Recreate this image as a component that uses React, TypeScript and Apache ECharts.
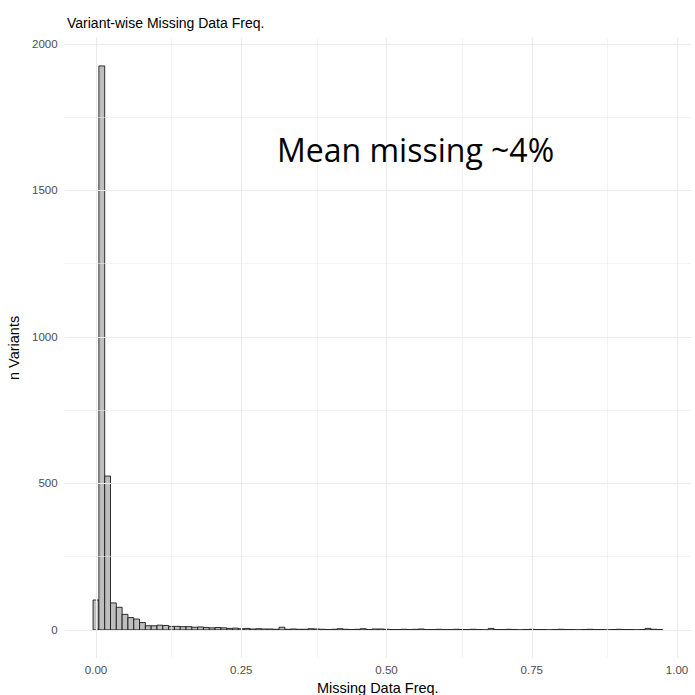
import React, { useEffect, useRef } from "react";
import * as echarts from "echarts";

const binWidth = 0.01;
const counts = [
  102, 1925, 525, 92, 77, 53, 42, 37, 25, 14,
  14, 16, 15, 12, 12, 11, 11, 9, 10, 8,
  7, 8, 7, 5, 6, 4, 5, 3, 4, 3,
  3, 2, 9, 2, 3, 2, 2, 4, 3, 2,
  1, 2, 4, 2, 1, 2, 4, 1, 3, 3,
  2, 1, 1, 2, 1, 2, 3, 1, 1, 2,
  1, 1, 2, 1, 1, 2, 1, 0, 5, 1,
  1, 2, 1, 0, 1, 2, 1, 1, 0, 1,
  2, 1, 1, 0, 1, 2, 1, 1, 0, 1,
  2, 1, 1, 0, 1, 5, 2, 1,
];
const xTicks = [0, 0.25, 0.5, 0.75, 1];
const xMinor = [0.125, 0.375, 0.625, 0.875];
const yTicks = [0, 500, 1000, 1500, 2000];
const yMinor = [250, 750, 1250, 1750];
const titleText = "Variant-wise Missing Data Freq.";
const xTitle = "Missing Data Freq.";
const yTitle = "n Variants";
const noteText = "Mean missing ~4%";

const FONT = "'Liberation Sans', Arial, Helvetica, sans-serif";

export default function App() {
  const ref = useRef<HTMLDivElement>(null);
  useEffect(() => {
    if (!ref.current) return;
    const chart = echarts.init(ref.current, undefined, { renderer: "svg" });
    const data = counts.map((c, i) => [i * binWidth, c]);
    const gridLine = (vals: number[], axis: "xAxis" | "yAxis", width: number) =>
      vals.map((v) => ({ [axis]: v, lineStyle: { color: "#ebebeb", width, type: "solid" } }));
    chart.setOption({
      animation: false,
      backgroundColor: "#ffffff",
      title: [
        {
          text: titleText,
          left: 62,
          top: 11,
          textStyle: { fontFamily: FONT, fontSize: 14, fontWeight: "normal", color: "#000" },
        },
        {
          text: noteText,
          left: 272,
          top: 128,
          textStyle: { fontFamily: "'Open Sans', 'Noto Sans', sans-serif", fontSize: 32, fontWeight: "normal", color: "#000" },
        },
      ],
      grid: { left: 64.6, right: 4, top: 37.8, bottom: 37, outerBoundsMode: "none", containLabel: false },
      xAxis: {
        type: "value",
        min: -0.054,
        max: 1.024,
        name: xTitle,
        nameLocation: "middle",
        nameGap: 21,
        nameTextStyle: { fontFamily: FONT, fontSize: 14.5, color: "#000" },
        axisLine: { show: false },
        axisTick: { show: false },
        splitLine: { show: false },
        axisLabel: {
          customValues: xTicks,
          formatter: (v: number) => v.toFixed(2),
          color: "#4d4d4d",
          fontFamily: FONT,
          fontSize: 11.5,
          margin: 6,
        },
      },
      yAxis: {
        type: "value",
        min: -96,
        max: 2021,
        name: yTitle,
        nameLocation: "middle",
        nameGap: 39,
        nameTextStyle: { fontFamily: FONT, fontSize: 14.5, color: "#000" },
        axisLine: { show: false },
        axisTick: { show: false },
        splitLine: { show: false },
        axisLabel: {
          customValues: yTicks,
          formatter: (v: number) => String(v),
          color: "#4d4d4d",
          fontFamily: FONT,
          fontSize: 11.5,
          margin: 7,
        },
      },
      series: [
        {
          type: "line",
          data: [],
          z: 1,
          silent: true,
          markLine: {
            silent: true,
            symbol: "none",
            label: { show: false },
            animation: false,
            data: [
              ...gridLine(xMinor, "xAxis", 0.6),
              ...gridLine(yMinor, "yAxis", 0.6),
              ...gridLine(xTicks, "xAxis", 1.1),
              ...gridLine(yTicks, "yAxis", 1.1),
            ],
          },
        },
        {
          type: "custom",
          z: 2,
          data,
          encode: { x: 0, y: 1 },
          renderItem: (params: any, api: any) => {
            const x = api.value(0);
            const c = api.value(1);
            const p0 = api.coord([x - binWidth / 2, c]);
            const p1 = api.coord([x + binWidth / 2, 0]);
            return {
              type: "rect",
              shape: { x: p0[0], y: p0[1], width: p1[0] - p0[0], height: p1[1] - p0[1] },
              style: { fill: "#bebebe", stroke: "#1a1a1a", lineWidth: 0.9 },
            };
          },
        },
      ],
    });
    return () => chart.dispose();
  }, []);
  return (
    <div
      ref={ref}
      style={{ position: "absolute", left: 0, top: 0, width: 695, height: 695, background: "#fff" }}
    />
  );
}
